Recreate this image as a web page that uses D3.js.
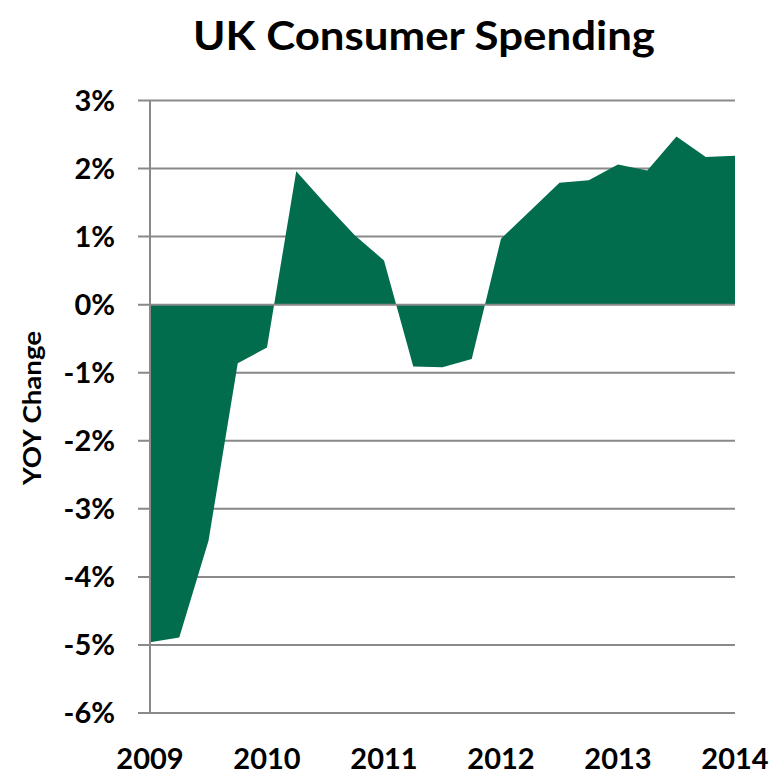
<!DOCTYPE html>
<html>
<head>
<meta charset="utf-8">
<script src="https://cdn.jsdelivr.net/npm/d3@7"></script>
<style>
  html, body { margin: 0; padding: 0; background: #ffffff; }
  svg text { font-family: Lato, "Open Sans", "DejaVu Sans", sans-serif; font-weight: 700; fill: #000; }
</style>
</head>
<body>
<svg id="chart" width="784" height="777"></svg>
<script>
// Quarterly year-over-year change in UK consumer spending, 2009 Q1 – 2014 Q1
const quarters = [
  "2009 Q1", "2009 Q2", "2009 Q3", "2009 Q4",
  "2010 Q1", "2010 Q2", "2010 Q3", "2010 Q4",
  "2011 Q1", "2011 Q2", "2011 Q3", "2011 Q4",
  "2012 Q1", "2012 Q2", "2012 Q3", "2012 Q4",
  "2013 Q1", "2013 Q2", "2013 Q3", "2013 Q4",
  "2014 Q1"
];
const yoyChange = [
  -4.96, -4.89, -3.47, -0.86,
  -0.63, 1.96, 1.48, 1.02,
  0.65, -0.91, -0.92, -0.80,
  0.97, 1.38, 1.79, 1.83,
  2.06, 1.97, 2.47, 2.17,
  2.19
];
const yearLabels = ["2009", "2010", "2011", "2012", "2013", "2014"];
const yTicks = [3, 2, 1, 0, -1, -2, -3, -4, -5, -6];

const svg = d3.select("#chart");
const plotLeft = 150, plotRight = 735, plotTop = 100.5, plotBottom = 713;

const x = d3.scaleLinear().domain([0, quarters.length - 1]).range([plotLeft, plotRight]);
const y = d3.scaleLinear().domain([-6, 3]).range([plotBottom, plotTop]);
const gridColor = "#898989";

// Horizontal gridlines (with outside tick stubs on the left)
svg.append("g").selectAll("line")
  .data(yTicks.filter(d => d !== 0))
  .join("line")
  .attr("x1", plotLeft - 12).attr("x2", plotRight)
  .attr("y1", d => y(d)).attr("y2", d => y(d))
  .attr("stroke", gridColor).attr("stroke-width", 2);

// Filled area between the series and zero
const area = d3.area()
  .x((d, i) => x(i))
  .y0(y(0))
  .y1(d => y(d));
svg.append("path")
  .datum(yoyChange)
  .attr("d", area)
  .attr("fill", "#026d4d");

// Category axis at zero and the value axis line
svg.append("line")
  .attr("x1", plotLeft - 12).attr("x2", plotRight)
  .attr("y1", y(0)).attr("y2", y(0))
  .attr("stroke", gridColor).attr("stroke-width", 2);
svg.append("line")
  .attr("x1", plotLeft).attr("x2", plotLeft)
  .attr("y1", y(3)).attr("y2", y(-6))
  .attr("stroke", gridColor).attr("stroke-width", 2);

// Value tick labels
svg.append("g").selectAll("text")
  .data(yTicks)
  .join("text")
  .attr("x", 115)
  .attr("y", d => y(d) + 10)
  .attr("text-anchor", "end")
  .attr("font-size", 29)
  .text(d => d + "%");

// Year labels below the plot
const yearScale = d3.scalePoint().domain(yearLabels).range([plotLeft, plotRight]);
svg.append("g").selectAll("text")
  .data(yearLabels)
  .join("text")
  .attr("x", d => yearScale(d))
  .attr("y", 769)
  .attr("text-anchor", "middle")
  .attr("font-size", 29)
  .text(d => d);

// Axis title
svg.append("text")
  .attr("transform", "translate(41,408) rotate(-90)")
  .attr("text-anchor", "middle")
  .attr("font-size", 24)
  .attr("textLength", 154)
  .attr("lengthAdjust", "spacingAndGlyphs")
  .text("YOY Change");

// Chart title
svg.append("text")
  .attr("x", 424)
  .attr("y", 50)
  .attr("text-anchor", "middle")
  .attr("font-size", 40)
  .attr("textLength", 462)
  .attr("lengthAdjust", "spacingAndGlyphs")
  .text("UK Consumer Spending");
</script>
</body>
</html>
